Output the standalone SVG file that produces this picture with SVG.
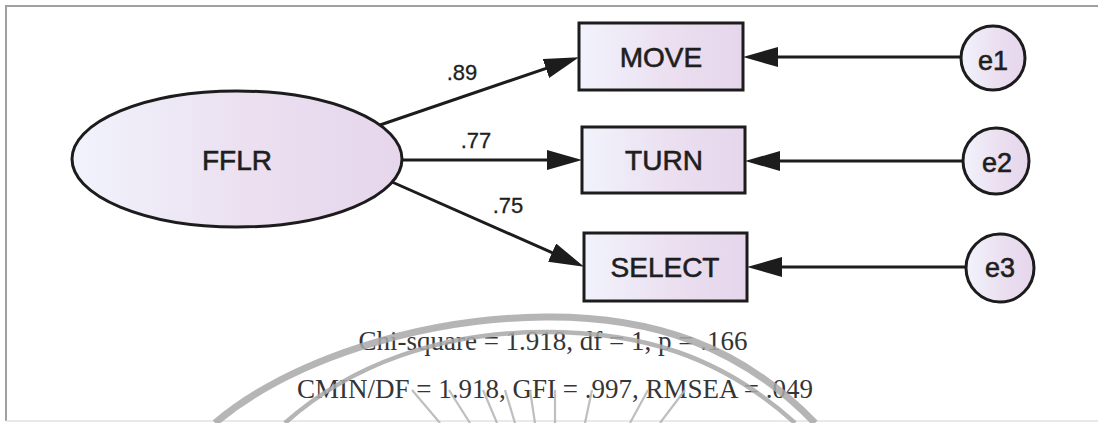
<svg xmlns="http://www.w3.org/2000/svg" width="1098" height="423" viewBox="0 0 1098 423">
<style>
.node{stroke:#1c1c1c;stroke-width:3;fill:url(#g)}
.lbl{font-family:"Liberation Sans",Arial,sans-serif;fill:#1e1e1e;text-anchor:middle}
.big{font-size:28px;stroke:#1e1e1e;stroke-width:0.6}
.coef{font-size:22px;stroke:#1e1e1e;stroke-width:0.3}
.conn{stroke:#1c1c1c;stroke-width:3;fill:none;marker-end:url(#ah)}
.fit{font-family:"Liberation Serif","Times New Roman",serif;font-size:27px;fill:#353535;text-anchor:middle}
.wm{stroke:#a9a9a9;fill:none}
</style>
<defs>
<linearGradient id="g" x1="0" y1="0" x2="1" y2="0">
<stop offset="0" stop-color="#f1f3fc"/>
<stop offset="0.55" stop-color="#ebdff0"/>
<stop offset="1" stop-color="#e6d6ec"/>
</linearGradient>
<marker id="ah" markerUnits="userSpaceOnUse" markerWidth="36" markerHeight="22" refX="15" refY="10" orient="auto">
<path d="M0,0 L35,10 L0,20 Z" fill="#1c1c1c"/>
</marker>
</defs>
<rect width="1098" height="423" fill="#ffffff"/>
<g id="frame" fill="none">
<path d="M6,421 V6 H1098" stroke="#a0a0a0" stroke-width="2"/>
<path d="M6,421 H1098" stroke="#e2e2e2" stroke-width="1.5"/>
</g>
<g id="connectors">
<path class="conn" d="M380,125 L560.1,63.6"/>
<path class="conn" d="M403,160 L562,160"/>
<path class="conn" d="M392,182 L565.8,258.7"/>
<path class="conn" d="M961,57 L763,57"/>
<path class="conn" d="M963,161 L765,161"/>
<path class="conn" d="M966,267 L767,267"/>
<text class="lbl coef" x="462" y="80">.89</text>
<text class="lbl coef" x="476" y="148">.77</text>
<text class="lbl coef" x="508" y="213">.75</text>
</g>
<g id="FFLR">
<ellipse class="node" cx="237" cy="159" rx="165" ry="68"/>
<text class="lbl big" x="237" y="170">FFLR</text>
</g>
<g id="MOVE">
<rect class="node" x="579" y="23" width="164" height="67"/>
<text class="lbl big" x="661" y="67">MOVE</text>
</g>
<g id="TURN">
<rect class="node" x="582" y="127" width="163" height="66"/>
<text class="lbl big" x="664" y="170">TURN</text>
</g>
<g id="SELECT">
<rect class="node" x="584" y="233" width="163" height="68"/>
<text class="lbl big" x="665" y="277">SELECT</text>
</g>
<g id="e1">
<circle class="node" cx="993" cy="58" r="32"/>
<text class="lbl big" x="993" y="70" style="font-size:27px">e1</text>
</g>
<g id="e2">
<circle class="node" cx="996" cy="161" r="33"/>
<text class="lbl big" x="997" y="172" style="font-size:27px">e2</text>
</g>
<g id="e3">
<circle class="node" cx="1000" cy="268" r="34"/>
<text class="lbl big" x="1000" y="277" style="font-size:27px">e3</text>
</g>
<g id="fit">
<text class="fit" x="553" y="350">Chi-square = 1.918, df = 1, p = .166</text>
<text class="fit" x="555" y="398">CMIN/DF = 1.918, GFI = .997, RMSEA = .049</text>
</g>
<g id="watermark" opacity="0.85">
<path class="wm" d="M215,423 C290,360 420,318 545,317 C650,316 740,345 815,423" stroke-width="7"/>
<path class="wm" d="M285,423 C350,365 440,332 545,332 C640,332 720,355 795,423" stroke-width="4.5"/>
<g stroke="#b4b4b4" stroke-width="2.2">
<line x1="412" y1="390" x2="440" y2="423"/>
<line x1="449" y1="390" x2="470" y2="423"/>
<line x1="483" y1="390" x2="497" y2="423"/>
<line x1="505" y1="390" x2="515" y2="423"/>
<line x1="530" y1="390" x2="535" y2="423"/>
<line x1="555" y1="390" x2="555" y2="423"/>
<line x1="592" y1="390" x2="585" y2="423"/>
<line x1="648" y1="390" x2="630" y2="423"/>
<line x1="685" y1="390" x2="660" y2="423"/>
</g>
</g>
</svg>
